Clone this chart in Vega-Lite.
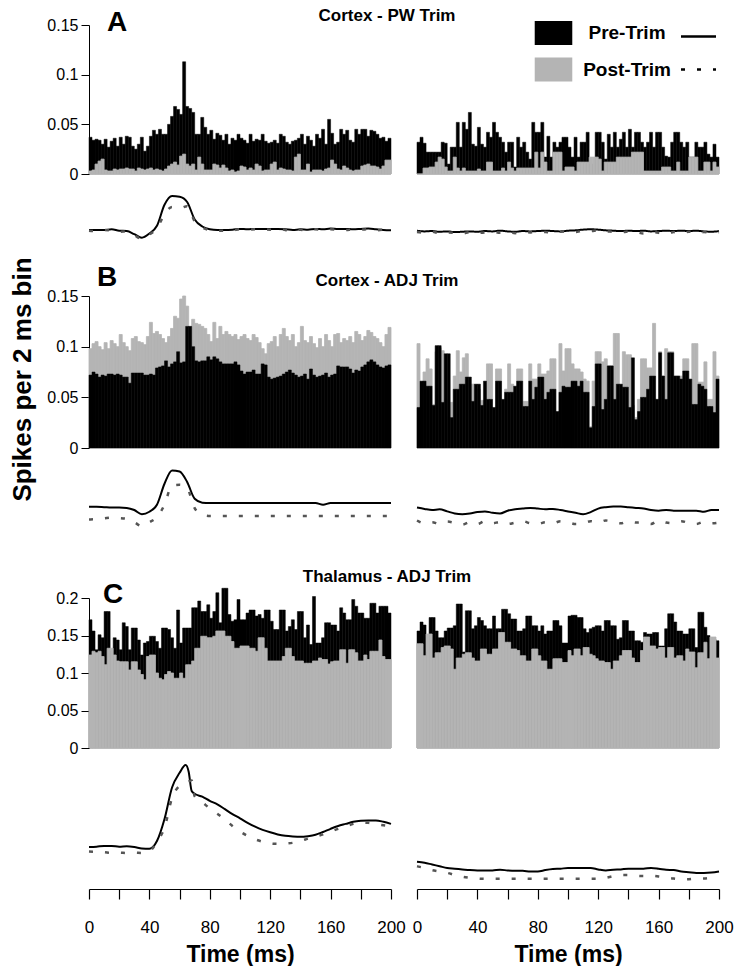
{
"$schema":"https://vega.github.io/schema/vega-lite/v6.json",
"padding":{"left":8,"top":7,"right":10,"bottom":0},
"config":{"view":{"stroke":null},"font":"Liberation Sans","axis":{"grid":false,"domainColor":"#000","tickColor":"#000","labelColor":"#000","titleColor":"#000"},"title":{"color":"#000"},"legend":{"labelColor":"#000"}},
"datasets":{
"AL":[{"t":0,"pre":0.037,"post":0.003},{"t":2,"pre":0.034,"post":0.004},{"t":4,"pre":0.035,"post":0.010},{"t":6,"pre":0.034,"post":0.013},{"t":8,"pre":0.030,"post":0.015},{"t":10,"pre":0.035,"post":0.004},{"t":12,"pre":0.027,"post":0.003},{"t":14,"pre":0.033,"post":0.003},{"t":16,"pre":0.036,"post":0.005},{"t":18,"pre":0.028,"post":0.004},
{"t":20,"pre":0.037,"post":0.005},{"t":22,"pre":0.030,"post":0.005},{"t":24,"pre":0.038,"post":0.006},{"t":26,"pre":0.037,"post":0.005},{"t":28,"pre":0.028,"post":0.005},{"t":30,"pre":0.025,"post":0.003},{"t":32,"pre":0.030,"post":0.006},{"t":34,"pre":0.037,"post":0.005},{"t":36,"pre":0.023,"post":0.004},{"t":38,"pre":0.028,"post":0.005},
{"t":40,"pre":0.038,"post":0.006},{"t":42,"pre":0.044,"post":0.004},{"t":44,"pre":0.040,"post":0.005},{"t":46,"pre":0.045,"post":0.004},{"t":48,"pre":0.040,"post":0.003},{"t":50,"pre":0.040,"post":0.005},{"t":52,"pre":0.050,"post":0.008},{"t":54,"pre":0.058,"post":0.010},{"t":56,"pre":0.068,"post":0.012},{"t":58,"pre":0.065,"post":0.009},
{"t":60,"pre":0.060,"post":0.018},{"t":62,"pre":0.113,"post":0.020},{"t":64,"pre":0.068,"post":0.010},{"t":66,"pre":0.066,"post":0.008},{"t":68,"pre":0.062,"post":0.010},{"t":70,"pre":0.040,"post":0.004},{"t":72,"pre":0.040,"post":0.017},{"t":74,"pre":0.057,"post":0.010},{"t":76,"pre":0.047,"post":0.004},{"t":78,"pre":0.040,"post":0.004},
{"t":80,"pre":0.044,"post":0.004},{"t":82,"pre":0.035,"post":0.010},{"t":84,"pre":0.041,"post":0.009},{"t":86,"pre":0.039,"post":0.006},{"t":88,"pre":0.034,"post":0.009},{"t":90,"pre":0.040,"post":0.006},{"t":92,"pre":0.030,"post":0.003},{"t":94,"pre":0.036,"post":0.004},{"t":96,"pre":0.034,"post":0.002},{"t":98,"pre":0.040,"post":0.003},
{"t":100,"pre":0.036,"post":0.008},{"t":102,"pre":0.034,"post":0.007},{"t":104,"pre":0.031,"post":0.004},{"t":106,"pre":0.040,"post":0.006},{"t":108,"pre":0.033,"post":0.004},{"t":110,"pre":0.035,"post":0.010},{"t":112,"pre":0.034,"post":0.008},{"t":114,"pre":0.040,"post":0.003},{"t":116,"pre":0.033,"post":0.004},{"t":118,"pre":0.031,"post":0.004},
{"t":120,"pre":0.032,"post":0.010},{"t":122,"pre":0.034,"post":0.012},{"t":124,"pre":0.031,"post":0.004},{"t":126,"pre":0.040,"post":0.006},{"t":128,"pre":0.038,"post":0.005},{"t":130,"pre":0.032,"post":0.004},{"t":132,"pre":0.030,"post":0.004},{"t":134,"pre":0.033,"post":0.003},{"t":136,"pre":0.034,"post":0.017},{"t":138,"pre":0.036,"post":0.020},
{"t":140,"pre":0.040,"post":0.004},{"t":142,"pre":0.030,"post":0.004},{"t":144,"pre":0.038,"post":0.010},{"t":146,"pre":0.034,"post":0.002},{"t":148,"pre":0.028,"post":0.004},{"t":150,"pre":0.040,"post":0.004},{"t":152,"pre":0.036,"post":0.004},{"t":154,"pre":0.045,"post":0.003},{"t":156,"pre":0.030,"post":0.005},{"t":158,"pre":0.055,"post":0.006},
{"t":160,"pre":0.041,"post":0.014},{"t":162,"pre":0.030,"post":0.010},{"t":164,"pre":0.032,"post":0.005},{"t":166,"pre":0.045,"post":0.004},{"t":168,"pre":0.040,"post":0.008},{"t":170,"pre":0.044,"post":0.006},{"t":172,"pre":0.034,"post":0.004},{"t":174,"pre":0.032,"post":0.003},{"t":176,"pre":0.045,"post":0.004},{"t":178,"pre":0.040,"post":0.004},
{"t":180,"pre":0.045,"post":0.008},{"t":182,"pre":0.045,"post":0.009},{"t":184,"pre":0.038,"post":0.010},{"t":186,"pre":0.044,"post":0.008},{"t":188,"pre":0.043,"post":0.008},{"t":190,"pre":0.040,"post":0.007},{"t":192,"pre":0.036,"post":0.005},{"t":194,"pre":0.037,"post":0.008},{"t":196,"pre":0.033,"post":0.014},{"t":198,"pre":0.036,"post":0.014}],
"AR":[{"t":0,"pre":0.032,"post":0.000},{"t":2,"pre":0.037,"post":0.000},{"t":4,"pre":0.031,"post":0.006},{"t":6,"pre":0.022,"post":0.006},{"t":8,"pre":0.022,"post":0.007},{"t":10,"pre":0.022,"post":0.007},{"t":12,"pre":0.022,"post":0.012},{"t":14,"pre":0.022,"post":0.017},{"t":16,"pre":0.032,"post":0.015},{"t":18,"pre":0.031,"post":0.007},
{"t":20,"pre":0.010,"post":0.003},{"t":22,"pre":0.027,"post":0.003},{"t":24,"pre":0.027,"post":0.017},{"t":26,"pre":0.052,"post":0.006},{"t":28,"pre":0.027,"post":0.003},{"t":30,"pre":0.052,"post":0.006},{"t":32,"pre":0.045,"post":0.003},{"t":34,"pre":0.062,"post":0.003},{"t":36,"pre":0.030,"post":0.003},{"t":38,"pre":0.028,"post":0.003},
{"t":40,"pre":0.047,"post":0.005},{"t":42,"pre":0.030,"post":0.003},{"t":44,"pre":0.027,"post":0.003},{"t":46,"pre":0.042,"post":0.012},{"t":48,"pre":0.037,"post":0.012},{"t":50,"pre":0.052,"post":0.003},{"t":52,"pre":0.042,"post":0.003},{"t":54,"pre":0.037,"post":0.003},{"t":56,"pre":0.032,"post":0.006},{"t":58,"pre":0.022,"post":0.003},
{"t":60,"pre":0.032,"post":0.012},{"t":62,"pre":0.032,"post":0.006},{"t":64,"pre":0.007,"post":0.003},{"t":66,"pre":0.037,"post":0.006},{"t":68,"pre":0.027,"post":0.006},{"t":70,"pre":0.032,"post":0.006},{"t":72,"pre":0.022,"post":0.006},{"t":74,"pre":0.015,"post":0.006},{"t":76,"pre":0.052,"post":0.006},{"t":78,"pre":0.042,"post":0.022},
{"t":80,"pre":0.042,"post":0.006},{"t":82,"pre":0.052,"post":0.022},{"t":84,"pre":0.017,"post":0.012},{"t":86,"pre":0.038,"post":0.003},{"t":88,"pre":0.017,"post":0.003},{"t":90,"pre":0.032,"post":0.022},{"t":92,"pre":0.027,"post":0.022},{"t":94,"pre":0.032,"post":0.022},{"t":96,"pre":0.037,"post":0.003},{"t":98,"pre":0.037,"post":0.007},
{"t":100,"pre":0.027,"post":0.007},{"t":102,"pre":0.017,"post":0.007},{"t":104,"pre":0.037,"post":0.003},{"t":106,"pre":0.017,"post":0.012},{"t":108,"pre":0.032,"post":0.012},{"t":110,"pre":0.032,"post":0.012},{"t":112,"pre":0.042,"post":0.012},{"t":114,"pre":0.010,"post":0.017},{"t":116,"pre":0.010,"post":0.017},{"t":118,"pre":0.042,"post":0.017},
{"t":120,"pre":0.042,"post":0.015},{"t":122,"pre":0.032,"post":0.003},{"t":124,"pre":0.015,"post":0.012},{"t":126,"pre":0.040,"post":0.012},{"t":128,"pre":0.027,"post":0.012},{"t":130,"pre":0.042,"post":0.012},{"t":132,"pre":0.027,"post":0.017},{"t":134,"pre":0.035,"post":0.017},{"t":136,"pre":0.042,"post":0.017},{"t":138,"pre":0.027,"post":0.017},
{"t":140,"pre":0.045,"post":0.017},{"t":142,"pre":0.027,"post":0.022},{"t":144,"pre":0.042,"post":0.022},{"t":146,"pre":0.042,"post":0.022},{"t":148,"pre":0.032,"post":0.022},{"t":150,"pre":0.027,"post":0.003},{"t":152,"pre":0.032,"post":0.003},{"t":154,"pre":0.042,"post":0.003},{"t":156,"pre":0.027,"post":0.003},{"t":158,"pre":0.042,"post":0.003},
{"t":160,"pre":0.042,"post":0.003},{"t":162,"pre":0.027,"post":0.007},{"t":164,"pre":0.018,"post":0.007},{"t":166,"pre":0.017,"post":0.007},{"t":168,"pre":0.032,"post":0.003},{"t":170,"pre":0.042,"post":0.003},{"t":172,"pre":0.042,"post":0.012},{"t":174,"pre":0.032,"post":0.003},{"t":176,"pre":0.027,"post":0.003},{"t":178,"pre":0.032,"post":0.003},
{"t":180,"pre":0.017,"post":0.017},{"t":182,"pre":0.017,"post":0.017},{"t":184,"pre":0.032,"post":0.017},{"t":186,"pre":0.027,"post":0.003},{"t":188,"pre":0.027,"post":0.003},{"t":190,"pre":0.032,"post":0.012},{"t":192,"pre":0.020,"post":0.012},{"t":194,"pre":0.017,"post":0.003},{"t":196,"pre":0.030,"post":0.012},{"t":198,"pre":0.017,"post":0.007}],
"BL":[{"t":0,"pre":0.072,"post":0.098},{"t":2,"pre":0.075,"post":0.103},{"t":4,"pre":0.073,"post":0.105},{"t":6,"pre":0.070,"post":0.100},{"t":8,"pre":0.072,"post":0.097},{"t":10,"pre":0.071,"post":0.104},{"t":12,"pre":0.073,"post":0.098},{"t":14,"pre":0.073,"post":0.106},{"t":16,"pre":0.072,"post":0.103},{"t":18,"pre":0.073,"post":0.100},
{"t":20,"pre":0.072,"post":0.112},{"t":22,"pre":0.070,"post":0.104},{"t":24,"pre":0.070,"post":0.100},{"t":26,"pre":0.064,"post":0.096},{"t":28,"pre":0.074,"post":0.108},{"t":30,"pre":0.074,"post":0.110},{"t":32,"pre":0.074,"post":0.105},{"t":34,"pre":0.074,"post":0.104},{"t":36,"pre":0.072,"post":0.102},{"t":38,"pre":0.072,"post":0.110},
{"t":40,"pre":0.073,"post":0.124},{"t":42,"pre":0.072,"post":0.113},{"t":44,"pre":0.079,"post":0.115},{"t":46,"pre":0.080,"post":0.112},{"t":48,"pre":0.081,"post":0.108},{"t":50,"pre":0.086,"post":0.104},{"t":52,"pre":0.080,"post":0.110},{"t":54,"pre":0.083,"post":0.118},{"t":56,"pre":0.085,"post":0.130},{"t":58,"pre":0.095,"post":0.128},
{"t":60,"pre":0.084,"post":0.147},{"t":62,"pre":0.085,"post":0.150},{"t":64,"pre":0.120,"post":0.140},{"t":66,"pre":0.120,"post":0.120},{"t":68,"pre":0.100,"post":0.127},{"t":70,"pre":0.086,"post":0.123},{"t":72,"pre":0.085,"post":0.122},{"t":74,"pre":0.086,"post":0.120},{"t":76,"pre":0.086,"post":0.118},{"t":78,"pre":0.090,"post":0.112},
{"t":80,"pre":0.087,"post":0.105},{"t":82,"pre":0.090,"post":0.124},{"t":84,"pre":0.088,"post":0.108},{"t":86,"pre":0.085,"post":0.120},{"t":88,"pre":0.083,"post":0.112},{"t":90,"pre":0.083,"post":0.115},{"t":92,"pre":0.083,"post":0.112},{"t":94,"pre":0.083,"post":0.110},{"t":96,"pre":0.085,"post":0.112},{"t":98,"pre":0.082,"post":0.107},
{"t":100,"pre":0.076,"post":0.110},{"t":102,"pre":0.073,"post":0.112},{"t":104,"pre":0.075,"post":0.108},{"t":106,"pre":0.075,"post":0.106},{"t":108,"pre":0.077,"post":0.112},{"t":110,"pre":0.073,"post":0.109},{"t":112,"pre":0.073,"post":0.104},{"t":114,"pre":0.083,"post":0.098},{"t":116,"pre":0.082,"post":0.093},{"t":118,"pre":0.070,"post":0.103},
{"t":120,"pre":0.068,"post":0.105},{"t":122,"pre":0.069,"post":0.110},{"t":124,"pre":0.070,"post":0.100},{"t":126,"pre":0.071,"post":0.112},{"t":128,"pre":0.073,"post":0.118},{"t":130,"pre":0.075,"post":0.110},{"t":132,"pre":0.077,"post":0.106},{"t":134,"pre":0.074,"post":0.112},{"t":136,"pre":0.072,"post":0.100},{"t":138,"pre":0.070,"post":0.104},
{"t":140,"pre":0.071,"post":0.120},{"t":142,"pre":0.073,"post":0.106},{"t":144,"pre":0.068,"post":0.104},{"t":146,"pre":0.078,"post":0.110},{"t":148,"pre":0.072,"post":0.103},{"t":150,"pre":0.070,"post":0.099},{"t":152,"pre":0.071,"post":0.108},{"t":154,"pre":0.072,"post":0.100},{"t":156,"pre":0.074,"post":0.112},{"t":158,"pre":0.070,"post":0.106},
{"t":160,"pre":0.072,"post":0.100},{"t":162,"pre":0.073,"post":0.112},{"t":164,"pre":0.081,"post":0.113},{"t":166,"pre":0.080,"post":0.104},{"t":168,"pre":0.080,"post":0.108},{"t":170,"pre":0.080,"post":0.106},{"t":172,"pre":0.078,"post":0.110},{"t":174,"pre":0.074,"post":0.104},{"t":176,"pre":0.077,"post":0.115},{"t":178,"pre":0.076,"post":0.112},
{"t":180,"pre":0.080,"post":0.106},{"t":182,"pre":0.082,"post":0.110},{"t":184,"pre":0.085,"post":0.116},{"t":186,"pre":0.087,"post":0.114},{"t":188,"pre":0.085,"post":0.110},{"t":190,"pre":0.082,"post":0.108},{"t":192,"pre":0.080,"post":0.104},{"t":194,"pre":0.079,"post":0.100},{"t":196,"pre":0.081,"post":0.112},{"t":198,"pre":0.082,"post":0.119}],
"BR":[{"t":0,"pre":0.040,"post":0.103},{"t":2,"pre":0.066,"post":0.063},{"t":4,"pre":0.066,"post":0.075},{"t":6,"pre":0.061,"post":0.088},{"t":8,"pre":0.061,"post":0.078},{"t":10,"pre":0.042,"post":0.043},{"t":12,"pre":0.101,"post":0.095},{"t":14,"pre":0.101,"post":0.099},{"t":16,"pre":0.045,"post":0.096},{"t":18,"pre":0.093,"post":0.048},
{"t":20,"pre":0.093,"post":0.031},{"t":22,"pre":0.030,"post":0.045},{"t":24,"pre":0.058,"post":0.071},{"t":26,"pre":0.058,"post":0.096},{"t":28,"pre":0.063,"post":0.075},{"t":30,"pre":0.063,"post":0.089},{"t":32,"pre":0.070,"post":0.093},{"t":34,"pre":0.070,"post":0.047},{"t":36,"pre":0.046,"post":0.063},{"t":38,"pre":0.063,"post":0.058},
{"t":40,"pre":0.063,"post":0.058},{"t":42,"pre":0.042,"post":0.047},{"t":44,"pre":0.066,"post":0.047},{"t":46,"pre":0.048,"post":0.083},{"t":48,"pre":0.048,"post":0.083},{"t":50,"pre":0.040,"post":0.031},{"t":52,"pre":0.066,"post":0.078},{"t":54,"pre":0.066,"post":0.078},{"t":56,"pre":0.048,"post":0.047},{"t":58,"pre":0.055,"post":0.058},
{"t":60,"pre":0.055,"post":0.083},{"t":62,"pre":0.055,"post":0.063},{"t":64,"pre":0.061,"post":0.055},{"t":66,"pre":0.066,"post":0.078},{"t":68,"pre":0.066,"post":0.078},{"t":70,"pre":0.041,"post":0.046},{"t":72,"pre":0.041,"post":0.046},{"t":74,"pre":0.066,"post":0.083},{"t":76,"pre":0.048,"post":0.068},{"t":78,"pre":0.060,"post":0.068},
{"t":80,"pre":0.070,"post":0.083},{"t":82,"pre":0.070,"post":0.073},{"t":84,"pre":0.048,"post":0.073},{"t":86,"pre":0.055,"post":0.076},{"t":88,"pre":0.058,"post":0.088},{"t":90,"pre":0.058,"post":0.088},{"t":92,"pre":0.036,"post":0.031},{"t":94,"pre":0.055,"post":0.103},{"t":96,"pre":0.061,"post":0.076},{"t":98,"pre":0.060,"post":0.098},
{"t":100,"pre":0.060,"post":0.098},{"t":102,"pre":0.066,"post":0.083},{"t":104,"pre":0.066,"post":0.078},{"t":106,"pre":0.061,"post":0.078},{"t":108,"pre":0.066,"post":0.075},{"t":110,"pre":0.055,"post":0.068},{"t":112,"pre":0.055,"post":0.066},{"t":114,"pre":0.020,"post":0.021},{"t":116,"pre":0.041,"post":0.066},{"t":118,"pre":0.083,"post":0.095},
{"t":120,"pre":0.083,"post":0.095},{"t":122,"pre":0.038,"post":0.085},{"t":124,"pre":0.048,"post":0.088},{"t":126,"pre":0.081,"post":0.081},{"t":128,"pre":0.081,"post":0.081},{"t":130,"pre":0.048,"post":0.113},{"t":132,"pre":0.063,"post":0.113},{"t":134,"pre":0.063,"post":0.051},{"t":136,"pre":0.060,"post":0.095},{"t":138,"pre":0.060,"post":0.092},
{"t":140,"pre":0.040,"post":0.092},{"t":142,"pre":0.089,"post":0.042},{"t":144,"pre":0.028,"post":0.030},{"t":146,"pre":0.036,"post":0.048},{"t":148,"pre":0.050,"post":0.088},{"t":150,"pre":0.050,"post":0.088},{"t":152,"pre":0.058,"post":0.079},{"t":154,"pre":0.071,"post":0.079},{"t":156,"pre":0.071,"post":0.123},{"t":158,"pre":0.048,"post":0.048},
{"t":160,"pre":0.094,"post":0.095},{"t":162,"pre":0.071,"post":0.071},{"t":164,"pre":0.048,"post":0.098},{"t":166,"pre":0.094,"post":0.095},{"t":168,"pre":0.094,"post":0.095},{"t":170,"pre":0.071,"post":0.071},{"t":172,"pre":0.071,"post":0.071},{"t":174,"pre":0.068,"post":0.071},{"t":176,"pre":0.076,"post":0.088},{"t":178,"pre":0.076,"post":0.088},
{"t":180,"pre":0.068,"post":0.043},{"t":182,"pre":0.043,"post":0.103},{"t":184,"pre":0.043,"post":0.103},{"t":186,"pre":0.063,"post":0.065},{"t":188,"pre":0.061,"post":0.065},{"t":190,"pre":0.058,"post":0.085},{"t":192,"pre":0.041,"post":0.048},{"t":194,"pre":0.041,"post":0.048},{"t":196,"pre":0.035,"post":0.095},{"t":198,"pre":0.068,"post":0.071}],
"CL":[{"t":0,"pre":0.171,"post":0.124},{"t":2,"pre":0.156,"post":0.129},{"t":4,"pre":0.131,"post":0.127},{"t":6,"pre":0.151,"post":0.129},{"t":8,"pre":0.147,"post":0.122},{"t":10,"pre":0.182,"post":0.111},{"t":12,"pre":0.182,"post":0.133},{"t":14,"pre":0.129,"post":0.133},{"t":16,"pre":0.147,"post":0.124},{"t":18,"pre":0.144,"post":0.116},
{"t":20,"pre":0.131,"post":0.115},{"t":22,"pre":0.167,"post":0.115},{"t":24,"pre":0.162,"post":0.115},{"t":26,"pre":0.131,"post":0.104},{"t":28,"pre":0.160,"post":0.115},{"t":30,"pre":0.160,"post":0.115},{"t":32,"pre":0.144,"post":0.104},{"t":34,"pre":0.124,"post":0.098},{"t":36,"pre":0.140,"post":0.091},{"t":38,"pre":0.142,"post":0.122},
{"t":40,"pre":0.149,"post":0.124},{"t":42,"pre":0.149,"post":0.124},{"t":44,"pre":0.142,"post":0.100},{"t":46,"pre":0.133,"post":0.093},{"t":48,"pre":0.160,"post":0.091},{"t":50,"pre":0.160,"post":0.098},{"t":52,"pre":0.158,"post":0.102},{"t":54,"pre":0.147,"post":0.100},{"t":56,"pre":0.133,"post":0.093},{"t":58,"pre":0.184,"post":0.093},
{"t":60,"pre":0.140,"post":0.100},{"t":62,"pre":0.160,"post":0.093},{"t":64,"pre":0.160,"post":0.111},{"t":66,"pre":0.160,"post":0.111},{"t":68,"pre":0.187,"post":0.116},{"t":70,"pre":0.187,"post":0.133},{"t":72,"pre":0.196,"post":0.133},{"t":74,"pre":0.182,"post":0.149},{"t":76,"pre":0.182,"post":0.149},{"t":78,"pre":0.191,"post":0.147},
{"t":80,"pre":0.173,"post":0.147},{"t":82,"pre":0.182,"post":0.149},{"t":84,"pre":0.207,"post":0.156},{"t":86,"pre":0.167,"post":0.156},{"t":88,"pre":0.213,"post":0.156},{"t":90,"pre":0.213,"post":0.149},{"t":92,"pre":0.178,"post":0.149},{"t":94,"pre":0.169,"post":0.142},{"t":96,"pre":0.171,"post":0.133},{"t":98,"pre":0.198,"post":0.133},
{"t":100,"pre":0.171,"post":0.136},{"t":102,"pre":0.171,"post":0.136},{"t":104,"pre":0.180,"post":0.136},{"t":106,"pre":0.184,"post":0.133},{"t":108,"pre":0.184,"post":0.133},{"t":110,"pre":0.176,"post":0.129},{"t":112,"pre":0.178,"post":0.147},{"t":114,"pre":0.173,"post":0.147},{"t":116,"pre":0.184,"post":0.133},{"t":118,"pre":0.184,"post":0.116},
{"t":120,"pre":0.169,"post":0.116},{"t":122,"pre":0.158,"post":0.116},{"t":124,"pre":0.158,"post":0.116},{"t":126,"pre":0.184,"post":0.116},{"t":128,"pre":0.184,"post":0.122},{"t":130,"pre":0.156,"post":0.133},{"t":132,"pre":0.162,"post":0.133},{"t":134,"pre":0.171,"post":0.122},{"t":136,"pre":0.158,"post":0.116},{"t":138,"pre":0.182,"post":0.116},
{"t":140,"pre":0.182,"post":0.116},{"t":142,"pre":0.147,"post":0.113},{"t":144,"pre":0.164,"post":0.113},{"t":146,"pre":0.138,"post":0.113},{"t":148,"pre":0.202,"post":0.116},{"t":150,"pre":0.140,"post":0.116},{"t":152,"pre":0.140,"post":0.120},{"t":154,"pre":0.147,"post":0.118},{"t":156,"pre":0.167,"post":0.118},{"t":158,"pre":0.167,"post":0.112},
{"t":160,"pre":0.164,"post":0.115},{"t":162,"pre":0.164,"post":0.116},{"t":164,"pre":0.156,"post":0.116},{"t":166,"pre":0.187,"post":0.131},{"t":168,"pre":0.180,"post":0.131},{"t":170,"pre":0.171,"post":0.113},{"t":172,"pre":0.171,"post":0.131},{"t":174,"pre":0.198,"post":0.131},{"t":176,"pre":0.189,"post":0.127},{"t":178,"pre":0.180,"post":0.116},
{"t":180,"pre":0.180,"post":0.116},{"t":182,"pre":0.173,"post":0.124},{"t":184,"pre":0.173,"post":0.118},{"t":186,"pre":0.193,"post":0.129},{"t":188,"pre":0.193,"post":0.129},{"t":190,"pre":0.180,"post":0.129},{"t":192,"pre":0.189,"post":0.144},{"t":194,"pre":0.189,"post":0.122},{"t":196,"pre":0.189,"post":0.118},{"t":198,"pre":0.180,"post":0.118}],
"CR":[{"t":0,"pre":0.156,"post":0.139},{"t":2,"pre":0.168,"post":0.139},{"t":4,"pre":0.164,"post":0.123},{"t":6,"pre":0.128,"post":0.152},{"t":8,"pre":0.174,"post":0.152},{"t":10,"pre":0.174,"post":0.120},{"t":12,"pre":0.156,"post":0.127},{"t":14,"pre":0.147,"post":0.127},{"t":16,"pre":0.147,"post":0.134},{"t":18,"pre":0.156,"post":0.136},
{"t":20,"pre":0.160,"post":0.136},{"t":22,"pre":0.160,"post":0.132},{"t":24,"pre":0.163,"post":0.105},{"t":26,"pre":0.192,"post":0.120},{"t":28,"pre":0.192,"post":0.120},{"t":30,"pre":0.128,"post":0.125},{"t":32,"pre":0.183,"post":0.127},{"t":34,"pre":0.183,"post":0.127},{"t":36,"pre":0.159,"post":0.120},{"t":38,"pre":0.163,"post":0.116},
{"t":40,"pre":0.174,"post":0.116},{"t":42,"pre":0.170,"post":0.132},{"t":44,"pre":0.163,"post":0.132},{"t":46,"pre":0.159,"post":0.125},{"t":48,"pre":0.159,"post":0.125},{"t":50,"pre":0.176,"post":0.132},{"t":52,"pre":0.159,"post":0.132},{"t":54,"pre":0.159,"post":0.154},{"t":56,"pre":0.185,"post":0.154},{"t":58,"pre":0.185,"post":0.141},
{"t":60,"pre":0.179,"post":0.141},{"t":62,"pre":0.172,"post":0.132},{"t":64,"pre":0.172,"post":0.132},{"t":66,"pre":0.156,"post":0.130},{"t":68,"pre":0.156,"post":0.123},{"t":70,"pre":0.159,"post":0.123},{"t":72,"pre":0.176,"post":0.116},{"t":74,"pre":0.176,"post":0.116},{"t":76,"pre":0.163,"post":0.132},{"t":78,"pre":0.163,"post":0.132},
{"t":80,"pre":0.156,"post":0.123},{"t":82,"pre":0.163,"post":0.116},{"t":84,"pre":0.152,"post":0.116},{"t":86,"pre":0.156,"post":0.105},{"t":88,"pre":0.156,"post":0.105},{"t":90,"pre":0.170,"post":0.119},{"t":92,"pre":0.170,"post":0.119},{"t":94,"pre":0.163,"post":0.119},{"t":96,"pre":0.140,"post":0.114},{"t":98,"pre":0.140,"post":0.114},
{"t":100,"pre":0.176,"post":0.130},{"t":102,"pre":0.177,"post":0.123},{"t":104,"pre":0.177,"post":0.132},{"t":106,"pre":0.174,"post":0.132},{"t":108,"pre":0.174,"post":0.123},{"t":110,"pre":0.159,"post":0.134},{"t":112,"pre":0.154,"post":0.134},{"t":114,"pre":0.159,"post":0.125},{"t":116,"pre":0.161,"post":0.123},{"t":118,"pre":0.163,"post":0.119},
{"t":120,"pre":0.163,"post":0.116},{"t":122,"pre":0.156,"post":0.116},{"t":124,"pre":0.170,"post":0.114},{"t":126,"pre":0.170,"post":0.114},{"t":128,"pre":0.163,"post":0.105},{"t":130,"pre":0.163,"post":0.116},{"t":132,"pre":0.145,"post":0.116},{"t":134,"pre":0.147,"post":0.123},{"t":136,"pre":0.170,"post":0.130},{"t":138,"pre":0.170,"post":0.130},
{"t":140,"pre":0.156,"post":0.130},{"t":142,"pre":0.156,"post":0.120},{"t":144,"pre":0.143,"post":0.114},{"t":146,"pre":0.143,"post":0.114},{"t":148,"pre":0.141,"post":0.130},{"t":150,"pre":0.154,"post":0.148},{"t":152,"pre":0.152,"post":0.148},{"t":154,"pre":0.152,"post":0.136},{"t":156,"pre":0.154,"post":0.136},{"t":158,"pre":0.154,"post":0.132},
{"t":160,"pre":0.136,"post":0.134},{"t":162,"pre":0.136,"post":0.134},{"t":164,"pre":0.159,"post":0.120},{"t":166,"pre":0.179,"post":0.134},{"t":168,"pre":0.179,"post":0.134},{"t":170,"pre":0.168,"post":0.120},{"t":172,"pre":0.156,"post":0.123},{"t":174,"pre":0.156,"post":0.123},{"t":176,"pre":0.152,"post":0.116},{"t":178,"pre":0.152,"post":0.132},
{"t":180,"pre":0.159,"post":0.128},{"t":182,"pre":0.159,"post":0.128},{"t":184,"pre":0.134,"post":0.107},{"t":186,"pre":0.181,"post":0.127},{"t":188,"pre":0.181,"post":0.127},{"t":190,"pre":0.161,"post":0.141},{"t":192,"pre":0.150,"post":0.119},{"t":194,"pre":0.136,"post":0.148},{"t":196,"pre":0.145,"post":0.148},{"t":198,"pre":0.143,"post":0.120}],
"LAL":[{"t":0,"pre":0,"post":-0.02},{"t":5,"pre":0,"post":-0.03},{"t":10,"pre":0,"post":0},{"t":15,"pre":0.02,"post":-0.02},{"t":20,"pre":-0.02,"post":-0.05},{"t":25,"pre":-0.03,"post":-0.04},{"t":30,"pre":-0.12,"post":-0.15},{"t":35,"pre":-0.22,"post":-0.25},{"t":40,"pre":-0.1,"post":-0.13},{"t":45,"pre":0.12,"post":0.05},{"t":50,"pre":0.72,"post":0.45},{"t":55,"pre":0.97,"post":0.66},{"t":60,"pre":0.95,"post":0.62},{"t":65,"pre":0.8,"post":0.68},{"t":70,"pre":0.3,"post":0.25},{"t":75,"pre":0.1,"post":0.07},{"t":80,"pre":0.02,"post":0},{"t":85,"pre":0,"post":-0.02},{"t":90,"pre":0,"post":-0.02},{"t":95,"pre":0.01,"post":-0.01},{"t":100,"pre":0.03,"post":0.02},{"t":105,"pre":0.02,"post":0.01},{"t":110,"pre":0.03,"post":0.02},{"t":115,"pre":0.03,"post":0.02},{"t":120,"pre":0.03,"post":0.01},{"t":125,"pre":0.03,"post":0.03},{"t":130,"pre":0.02,"post":0},{"t":135,"pre":0,"post":-0.04},{"t":140,"pre":0.02,"post":0.01},{"t":145,"pre":0.01,"post":-0.03},{"t":150,"pre":0.03,"post":0.02},{"t":155,"pre":0.02,"post":0},{"t":160,"pre":0.04,"post":0.02},{"t":165,"pre":0.03,"post":0.01},{"t":170,"pre":0.03,"post":0},{"t":175,"pre":0.02,"post":0.02},{"t":180,"pre":0.03,"post":0.01},{"t":185,"pre":0.04,"post":0.02},{"t":190,"pre":0.02,"post":-0.01},{"t":195,"pre":0,"post":0.01},{"t":200,"pre":-0.01,"post":-0.02}],
"LAR":[{"t":0,"pre":-0.02,"post":-0.06},{"t":5,"pre":-0.04,"post":-0.08},{"t":10,"pre":-0.03,"post":-0.05},{"t":15,"pre":-0.05,"post":-0.09},{"t":20,"pre":-0.04,"post":-0.07},{"t":25,"pre":-0.06,"post":-0.08},{"t":30,"pre":-0.05,"post":-0.1},{"t":35,"pre":-0.04,"post":-0.06},{"t":40,"pre":-0.05,"post":-0.08},{"t":45,"pre":-0.03,"post":-0.07},{"t":50,"pre":-0.04,"post":-0.05},{"t":55,"pre":-0.02,"post":-0.08},{"t":60,"pre":-0.04,"post":-0.06},{"t":65,"pre":-0.05,"post":-0.09},{"t":70,"pre":-0.03,"post":-0.05},{"t":75,"pre":-0.04,"post":-0.07},{"t":80,"pre":-0.03,"post":-0.05},{"t":85,"pre":-0.02,"post":-0.06},{"t":90,"pre":-0.03,"post":-0.08},{"t":95,"pre":-0.04,"post":-0.05},{"t":100,"pre":-0.02,"post":-0.04},{"t":105,"pre":-0.01,"post":-0.06},{"t":110,"pre":0.01,"post":-0.02},{"t":115,"pre":0.02,"post":-0.03},{"t":120,"pre":0.01,"post":-0.01},{"t":125,"pre":-0.01,"post":-0.04},{"t":130,"pre":-0.02,"post":-0.05},{"t":135,"pre":-0.03,"post":-0.07},{"t":140,"pre":-0.02,"post":-0.04},{"t":145,"pre":-0.03,"post":-0.06},{"t":150,"pre":-0.02,"post":-0.1},{"t":155,"pre":-0.04,"post":-0.06},{"t":160,"pre":-0.03,"post":-0.08},{"t":165,"pre":-0.02,"post":-0.12},{"t":170,"pre":-0.03,"post":-0.06},{"t":175,"pre":-0.02,"post":-0.1},{"t":180,"pre":-0.03,"post":-0.05},{"t":185,"pre":-0.02,"post":-0.07},{"t":190,"pre":-0.04,"post":-0.06},{"t":195,"pre":-0.05,"post":-0.08},{"t":200,"pre":-0.03,"post":-0.06}],
"LBL":[{"t":0,"pre":-0.11,"post":-0.47},{"t":5,"pre":-0.11,"post":-0.46},{"t":10,"pre":-0.12,"post":-0.44},{"t":15,"pre":-0.13,"post":-0.42},{"t":20,"pre":-0.13,"post":-0.43},{"t":25,"pre":-0.14,"post":-0.45},{"t":30,"pre":-0.2,"post":-0.55},{"t":35,"pre":-0.32,"post":-0.66},{"t":40,"pre":-0.25,"post":-0.55},{"t":45,"pre":-0.05,"post":-0.4},{"t":50,"pre":0.55,"post":-0.05},{"t":55,"pre":0.93,"post":0.5},{"t":60,"pre":0.9,"post":0.52},{"t":65,"pre":0.6,"post":0.42},{"t":70,"pre":0.12,"post":-0.15},{"t":75,"pre":0.01,"post":-0.33},{"t":80,"pre":0,"post":-0.37},{"t":85,"pre":0,"post":-0.37},{"t":90,"pre":0,"post":-0.37},{"t":95,"pre":0,"post":-0.37},{"t":100,"pre":0,"post":-0.37},{"t":105,"pre":0,"post":-0.37},{"t":110,"pre":0,"post":-0.37},{"t":115,"pre":0,"post":-0.37},{"t":120,"pre":0,"post":-0.37},{"t":125,"pre":0,"post":-0.37},{"t":130,"pre":0,"post":-0.37},{"t":135,"pre":0,"post":-0.37},{"t":140,"pre":0,"post":-0.37},{"t":145,"pre":0,"post":-0.37},{"t":150,"pre":0,"post":-0.37},{"t":155,"pre":-0.05,"post":-0.37},{"t":160,"pre":0,"post":-0.37},{"t":165,"pre":0,"post":-0.37},{"t":170,"pre":0,"post":-0.37},{"t":175,"pre":0,"post":-0.37},{"t":180,"pre":0,"post":-0.37},{"t":185,"pre":0,"post":-0.37},{"t":190,"pre":0,"post":-0.37},{"t":195,"pre":0,"post":-0.37},{"t":200,"pre":0,"post":-0.37}],
"LBR":[{"t":0,"pre":-0.13,"post":-0.5},{"t":5,"pre":-0.17,"post":-0.58},{"t":10,"pre":-0.2,"post":-0.55},{"t":15,"pre":-0.18,"post":-0.6},{"t":20,"pre":-0.24,"post":-0.53},{"t":25,"pre":-0.3,"post":-0.57},{"t":30,"pre":-0.32,"post":-0.62},{"t":35,"pre":-0.3,"post":-0.55},{"t":40,"pre":-0.26,"post":-0.6},{"t":45,"pre":-0.24,"post":-0.52},{"t":50,"pre":-0.28,"post":-0.58},{"t":55,"pre":-0.3,"post":-0.54},{"t":60,"pre":-0.22,"post":-0.6},{"t":65,"pre":-0.18,"post":-0.56},{"t":70,"pre":-0.16,"post":-0.52},{"t":75,"pre":-0.14,"post":-0.58},{"t":80,"pre":-0.16,"post":-0.6},{"t":85,"pre":-0.18,"post":-0.55},{"t":90,"pre":-0.17,"post":-0.58},{"t":95,"pre":-0.2,"post":-0.52},{"t":100,"pre":-0.24,"post":-0.55},{"t":105,"pre":-0.28,"post":-0.6},{"t":110,"pre":-0.32,"post":-0.58},{"t":115,"pre":-0.26,"post":-0.52},{"t":120,"pre":-0.16,"post":-0.56},{"t":125,"pre":-0.12,"post":-0.5},{"t":130,"pre":-0.1,"post":-0.54},{"t":135,"pre":-0.1,"post":-0.58},{"t":140,"pre":-0.12,"post":-0.52},{"t":145,"pre":-0.14,"post":-0.56},{"t":150,"pre":-0.16,"post":-0.55},{"t":155,"pre":-0.2,"post":-0.6},{"t":160,"pre":-0.22,"post":-0.5},{"t":165,"pre":-0.2,"post":-0.56},{"t":170,"pre":-0.22,"post":-0.58},{"t":175,"pre":-0.22,"post":-0.52},{"t":180,"pre":-0.22,"post":-0.57},{"t":185,"pre":-0.22,"post":-0.6},{"t":190,"pre":-0.25,"post":-0.54},{"t":195,"pre":-0.2,"post":-0.58},{"t":200,"pre":-0.2,"post":-0.56}],
"LCL":[{"t":0,"pre":0,"post":-0.13},{"t":5,"pre":0.01,"post":-0.14},{"t":10,"pre":0.03,"post":-0.15},{"t":15,"pre":0.03,"post":-0.17},{"t":20,"pre":0.01,"post":-0.16},{"t":25,"pre":0.02,"post":-0.17},{"t":30,"pre":0,"post":-0.16},{"t":35,"pre":-0.04,"post":-0.17},{"t":40,"pre":-0.05,"post":-0.12},{"t":45,"pre":0.17,"post":0.15},{"t":50,"pre":0.8,"post":0.55},{"t":55,"pre":1.7,"post":1.4},{"t":60,"pre":2.12,"post":1.75},{"t":64,"pre":2.34,"post":1.83},{"t":66,"pre":2.15,"post":1.87},{"t":68,"pre":1.6,"post":1.9},{"t":70,"pre":1.52,"post":1.45},{"t":75,"pre":1.44,"post":1.28},{"t":80,"pre":1.32,"post":1.1},{"t":85,"pre":1.22,"post":0.95},{"t":90,"pre":1.08,"post":0.79},{"t":95,"pre":0.94,"post":0.6},{"t":100,"pre":0.82,"post":0.44},{"t":105,"pre":0.69,"post":0.32},{"t":110,"pre":0.58,"post":0.22},{"t":115,"pre":0.49,"post":0.15},{"t":120,"pre":0.42,"post":0.1},{"t":125,"pre":0.36,"post":0.09},{"t":130,"pre":0.32,"post":0.1},{"t":135,"pre":0.3,"post":0.12},{"t":140,"pre":0.29,"post":0.17},{"t":145,"pre":0.31,"post":0.24},{"t":150,"pre":0.35,"post":0.3},{"t":155,"pre":0.43,"post":0.36},{"t":160,"pre":0.52,"post":0.44},{"t":165,"pre":0.6,"post":0.52},{"t":170,"pre":0.66,"post":0.59},{"t":175,"pre":0.72,"post":0.66},{"t":180,"pre":0.75,"post":0.7},{"t":185,"pre":0.76,"post":0.69},{"t":190,"pre":0.76,"post":0.65},{"t":195,"pre":0.72,"post":0.62},{"t":200,"pre":0.66,"post":0.6}],
"LCR":[{"t":0,"pre":-0.42,"post":-0.55},{"t":5,"pre":-0.45,"post":-0.6},{"t":10,"pre":-0.5,"post":-0.66},{"t":15,"pre":-0.55,"post":-0.7},{"t":20,"pre":-0.6,"post":-0.74},{"t":25,"pre":-0.62,"post":-0.8},{"t":30,"pre":-0.64,"post":-0.85},{"t":35,"pre":-0.66,"post":-0.88},{"t":40,"pre":-0.67,"post":-0.9},{"t":45,"pre":-0.67,"post":-0.91},{"t":50,"pre":-0.67,"post":-0.91},{"t":55,"pre":-0.65,"post":-0.91},{"t":60,"pre":-0.67,"post":-0.91},{"t":65,"pre":-0.68,"post":-0.91},{"t":70,"pre":-0.68,"post":-0.91},{"t":75,"pre":-0.7,"post":-0.91},{"t":80,"pre":-0.7,"post":-0.91},{"t":85,"pre":-0.66,"post":-0.91},{"t":90,"pre":-0.63,"post":-0.91},{"t":95,"pre":-0.62,"post":-0.91},{"t":100,"pre":-0.6,"post":-0.91},{"t":105,"pre":-0.6,"post":-0.91},{"t":110,"pre":-0.6,"post":-0.91},{"t":115,"pre":-0.6,"post":-0.91},{"t":120,"pre":-0.64,"post":-0.91},{"t":125,"pre":-0.67,"post":-0.88},{"t":130,"pre":-0.65,"post":-0.83},{"t":135,"pre":-0.64,"post":-0.8},{"t":140,"pre":-0.62,"post":-0.8},{"t":145,"pre":-0.62,"post":-0.82},{"t":150,"pre":-0.62,"post":-0.83},{"t":155,"pre":-0.6,"post":-0.82},{"t":160,"pre":-0.62,"post":-0.84},{"t":165,"pre":-0.65,"post":-0.87},{"t":170,"pre":-0.66,"post":-0.9},{"t":175,"pre":-0.7,"post":-0.92},{"t":180,"pre":-0.72,"post":-0.92},{"t":185,"pre":-0.74,"post":-0.9},{"t":190,"pre":-0.74,"post":-0.9},{"t":195,"pre":-0.73,"post":-0.88},{"t":200,"pre":-0.7,"post":-0.88}]
},
"columns":2,
"spacing":{"row":0,"column":26},
"bounds":"flush",
"resolve":{"scale":{"fill":"independent","strokeDash":"independent"},"legend":{"fill":"independent","strokeDash":"independent"}},
"concat":[
  {"width":302,"height":149,"data":{"name":"AL"},
   "title":{"text":"A","anchor":"start","frame":"group","fontSize":28,"fontWeight":"bold","dx":18,"dy":20,"offset":0},
   "layer":[
    {"mark":{"type":"bar","stroke":"#000","strokeWidth":0.5},
     "encoding":{"x":{"field":"t","type":"ordinal","scale":{"paddingInner":0,"paddingOuter":0},"axis":null},
      "y":{"field":"pre","type":"quantitative","scale":{"domain":[0,0.15],"nice":false},"axis":{"values":[0,0.05,0.1,0.15],"format":".2~f","title":null,"tickSize":8,"labelFontSize":16,"labelPadding":3}},
      "fill":{"datum":"Pre-Trim","scale":{"domain":["Pre-Trim","Post-Trim"],"range":["#000000","#b4b4b4"]},"legend":null}}},
    {"mark":{"type":"bar","stroke":"#b4b4b4","strokeWidth":0.8},
     "encoding":{"x":{"field":"t","type":"ordinal","scale":{"paddingInner":0,"paddingOuter":0},"axis":null},
      "y":{"field":"post","type":"quantitative","scale":{"domain":[0,0.15],"nice":false},"axis":{"values":[0,0.05,0.1,0.15],"format":".2~f","title":null,"tickSize":8,"labelFontSize":16,"labelPadding":3}},
      "fill":{"datum":"Post-Trim","scale":{"domain":["Pre-Trim","Post-Trim"],"range":["#000000","#b4b4b4"]},"legend":null}}}
   ]},
  {"width":302,"height":149,"data":{"name":"AR"},
   "title":{"text":"Cortex - PW Trim","anchor":"middle","frame":"group","fontSize":17,"fontWeight":"bold","dx":-181,"dy":8,"offset":4},
   "layer":[
    {"mark":{"type":"bar","stroke":"#000","strokeWidth":0.5},
     "encoding":{"x":{"field":"t","type":"ordinal","scale":{"paddingInner":0,"paddingOuter":0},"axis":null},
      "y":{"field":"pre","type":"quantitative","scale":{"domain":[0,0.15],"nice":false},"axis":null},
      "fill":{"datum":"Pre-Trim","scale":{"domain":["Pre-Trim","Post-Trim"],"range":["#000000","#b4b4b4"]},
        "legend":{"orient":"none","legendX":124.5,"legendY":-4,"title":null,"symbolType":"M-1.565,-1H1.565V1H-1.565Z","symbolSize":576,"symbolStrokeWidth":0,"labelFontSize":19,"labelFontWeight":"bold","labelAlign":"center","labelOffset":61.5,"rowPadding":12.5,"padding":0}}}},
    {"mark":{"type":"bar","stroke":"#b4b4b4","strokeWidth":0.8},
     "encoding":{"x":{"field":"t","type":"ordinal","scale":{"paddingInner":0,"paddingOuter":0},"axis":null},
      "y":{"field":"post","type":"quantitative","scale":{"domain":[0,0.15],"nice":false},"axis":null},
      "fill":{"datum":"Post-Trim","scale":{"domain":["Pre-Trim","Post-Trim"],"range":["#000000","#b4b4b4"]},
        "legend":{"orient":"none","legendX":124.5,"legendY":-4,"title":null,"symbolType":"M-1.565,-1H1.565V1H-1.565Z","symbolSize":576,"symbolStrokeWidth":0,"labelFontSize":19,"labelFontWeight":"bold","labelAlign":"center","labelOffset":61.5,"rowPadding":12.5,"padding":0}}}}
   ]},
  {"width":302,"height":122,"data":{"name":"LAL"},
   "layer":[
    {"mark":{"type":"line","color":"#000","strokeWidth":2,"interpolate":"monotone"},
     "encoding":{"x":{"field":"t","type":"quantitative","scale":{"domain":[0,200],"nice":false},"axis":null},
      "y":{"field":"pre","type":"quantitative","scale":{"domain":[-1.886,1.6],"nice":false,"zero":false},"axis":null}}},
    {"mark":{"type":"line","color":"#555","strokeWidth":2.5,"strokeDash":[4,12],"interpolate":"monotone"},
     "encoding":{"x":{"field":"t","type":"quantitative","scale":{"domain":[0,200],"nice":false},"axis":null},
      "y":{"field":"post","type":"quantitative","scale":{"domain":[-1.886,1.6],"nice":false,"zero":false},"axis":null}}}
   ]},
  {"width":302,"height":122,"data":{"name":"LAR"},
   "layer":[
    {"mark":{"type":"line","color":"#000","strokeWidth":2,"interpolate":"monotone"},
     "encoding":{"x":{"field":"t","type":"quantitative","scale":{"domain":[0,200],"nice":false},"axis":null},
      "y":{"field":"pre","type":"quantitative","scale":{"domain":[-1.886,1.6],"nice":false,"zero":false},"axis":null},
      "strokeDash":{"datum":"Pre-Trim","scale":{"domain":["Pre-Trim","Post-Trim"],"range":[[1,0],[4,12]]},
        "legend":{"orient":"none","legendX":262.5,"legendY":-156.5,"title":null,"symbolType":"stroke","symbolSize":1225,"symbolStrokeWidth":2.5,"symbolStrokeColor":"#000","labelExpr":"''","labelFontSize":1,"rowPadding":9,"padding":0}}}},
    {"mark":{"type":"line","color":"#555","strokeWidth":2.5,"interpolate":"monotone"},
     "encoding":{"x":{"field":"t","type":"quantitative","scale":{"domain":[0,200],"nice":false},"axis":null},
      "y":{"field":"post","type":"quantitative","scale":{"domain":[-1.886,1.6],"nice":false,"zero":false},"axis":null},
      "strokeDash":{"datum":"Post-Trim","scale":{"domain":["Pre-Trim","Post-Trim"],"range":[[1,0],[4,12]]},
        "legend":{"orient":"none","legendX":262.5,"legendY":-156.5,"title":null,"symbolType":"stroke","symbolSize":1225,"symbolStrokeWidth":2.5,"symbolStrokeColor":"#000","labelExpr":"''","labelFontSize":1,"rowPadding":9,"padding":0}}}}
   ]},
  {"width":302,"height":152,"data":{"name":"BL"},
   "title":{"text":"B","anchor":"start","frame":"group","fontSize":28,"fontWeight":"bold","dx":8,"dy":35,"offset":0},
   "layer":[
    {"mark":{"type":"bar","stroke":"#b4b4b4","strokeWidth":0.8},
     "encoding":{"x":{"field":"t","type":"ordinal","scale":{"paddingInner":0,"paddingOuter":0},"axis":null},
      "y":{"field":"post","type":"quantitative","scale":{"domain":[0,0.15],"nice":false},"axis":{"values":[0,0.05,0.1,0.15],"format":".2~f","title":"Spikes per 2 ms bin","titleFontSize":26,"titleFontWeight":"bold","titleAngle":-90,"titleX":-59,"titleY":83,"titleAlign":"center","titleBaseline":"alphabetic","tickSize":8,"labelFontSize":16,"labelPadding":3}},
      "fill":{"datum":"Post-Trim","scale":{"domain":["Pre-Trim","Post-Trim"],"range":["#000000","#b4b4b4"]},"legend":null}}},
    {"mark":{"type":"bar","stroke":"#000","strokeWidth":0.5},
     "encoding":{"x":{"field":"t","type":"ordinal","scale":{"paddingInner":0,"paddingOuter":0},"axis":null},
      "y":{"field":"pre","type":"quantitative","scale":{"domain":[0,0.15],"nice":false},"axis":{"values":[0,0.05,0.1,0.15],"format":".2~f","title":"Spikes per 2 ms bin","titleFontSize":26,"titleFontWeight":"bold","titleAngle":-90,"titleX":-59,"titleY":83,"titleAlign":"center","titleBaseline":"alphabetic","tickSize":8,"labelFontSize":16,"labelPadding":3}},
      "fill":{"datum":"Pre-Trim","scale":{"domain":["Pre-Trim","Post-Trim"],"range":["#000000","#b4b4b4"]},"legend":null}}}
   ]},
  {"width":302,"height":152,"data":{"name":"BR"},
   "title":{"text":"Cortex - ADJ Trim","anchor":"middle","frame":"group","fontSize":17,"fontWeight":"bold","dx":-181,"dy":-2,"offset":4},
   "layer":[
    {"mark":{"type":"bar","stroke":"#b4b4b4","strokeWidth":0.8},
     "encoding":{"x":{"field":"t","type":"ordinal","scale":{"paddingInner":0,"paddingOuter":0},"axis":null},
      "y":{"field":"post","type":"quantitative","scale":{"domain":[0,0.15],"nice":false},"axis":null},
      "fill":{"datum":"Post-Trim","scale":{"domain":["Pre-Trim","Post-Trim"],"range":["#000000","#b4b4b4"]},"legend":null}}},
    {"mark":{"type":"bar","stroke":"#000","strokeWidth":0.5},
     "encoding":{"x":{"field":"t","type":"ordinal","scale":{"paddingInner":0,"paddingOuter":0},"axis":null},
      "y":{"field":"pre","type":"quantitative","scale":{"domain":[0,0.15],"nice":false},"axis":null},
      "fill":{"datum":"Pre-Trim","scale":{"domain":["Pre-Trim","Post-Trim"],"range":["#000000","#b4b4b4"]},"legend":null}}}
   ]},
  {"width":302,"height":150,"data":{"name":"LBL"},
   "layer":[
    {"mark":{"type":"line","color":"#000","strokeWidth":2,"interpolate":"monotone"},
     "encoding":{"x":{"field":"t","type":"quantitative","scale":{"domain":[0,200],"nice":false},"axis":null},
      "y":{"field":"pre","type":"quantitative","scale":{"domain":[-2.714,1.571],"nice":false,"zero":false},"axis":null}}},
    {"mark":{"type":"line","color":"#555","strokeWidth":2.5,"strokeDash":[4,12],"interpolate":"monotone"},
     "encoding":{"x":{"field":"t","type":"quantitative","scale":{"domain":[0,200],"nice":false},"axis":null},
      "y":{"field":"post","type":"quantitative","scale":{"domain":[-2.714,1.571],"nice":false,"zero":false},"axis":null}}}
   ]},
  {"width":302,"height":150,"data":{"name":"LBR"},
   "layer":[
    {"mark":{"type":"line","color":"#000","strokeWidth":2,"interpolate":"monotone"},
     "encoding":{"x":{"field":"t","type":"quantitative","scale":{"domain":[0,200],"nice":false},"axis":null},
      "y":{"field":"pre","type":"quantitative","scale":{"domain":[-2.714,1.571],"nice":false,"zero":false},"axis":null}}},
    {"mark":{"type":"line","color":"#555","strokeWidth":2.5,"strokeDash":[4,12],"interpolate":"monotone"},
     "encoding":{"x":{"field":"t","type":"quantitative","scale":{"domain":[0,200],"nice":false},"axis":null},
      "y":{"field":"post","type":"quantitative","scale":{"domain":[-2.714,1.571],"nice":false,"zero":false},"axis":null}}}
   ]},
  {"width":302,"height":150,"data":{"name":"CL"},
   "title":{"text":"C","anchor":"start","frame":"group","fontSize":28,"fontWeight":"bold","dx":14,"dy":21,"offset":0},
   "layer":[
    {"mark":{"type":"bar","stroke":"#000","strokeWidth":0.5},
     "encoding":{"x":{"field":"t","type":"ordinal","scale":{"paddingInner":0,"paddingOuter":0},"axis":null},
      "y":{"field":"pre","type":"quantitative","scale":{"domain":[0,0.2],"nice":false},"axis":{"values":[0,0.05,0.1,0.15,0.2],"format":".2~f","title":null,"tickSize":8,"labelFontSize":16,"labelPadding":3}},
      "fill":{"datum":"Pre-Trim","scale":{"domain":["Pre-Trim","Post-Trim"],"range":["#000000","#b4b4b4"]},"legend":null}}},
    {"mark":{"type":"bar","stroke":"#b4b4b4","strokeWidth":0.8},
     "encoding":{"x":{"field":"t","type":"ordinal","scale":{"paddingInner":0,"paddingOuter":0},"axis":null},
      "y":{"field":"post","type":"quantitative","scale":{"domain":[0,0.2],"nice":false},"axis":{"values":[0,0.05,0.1,0.15,0.2],"format":".2~f","title":null,"tickSize":8,"labelFontSize":16,"labelPadding":3}},
      "fill":{"datum":"Post-Trim","scale":{"domain":["Pre-Trim","Post-Trim"],"range":["#000000","#b4b4b4"]},"legend":null}}}
   ]},
  {"width":302,"height":150,"data":{"name":"CR"},
   "title":{"text":"Thalamus - ADJ Trim","anchor":"middle","frame":"group","fontSize":17,"fontWeight":"bold","dx":-181,"dy":-8,"offset":4},
   "layer":[
    {"mark":{"type":"bar","stroke":"#000","strokeWidth":0.5},
     "encoding":{"x":{"field":"t","type":"ordinal","scale":{"paddingInner":0,"paddingOuter":0},"axis":null},
      "y":{"field":"pre","type":"quantitative","scale":{"domain":[0,0.2],"nice":false},"axis":null},
      "fill":{"datum":"Pre-Trim","scale":{"domain":["Pre-Trim","Post-Trim"],"range":["#000000","#b4b4b4"]},"legend":null}}},
    {"mark":{"type":"bar","stroke":"#b4b4b4","strokeWidth":0.8},
     "encoding":{"x":{"field":"t","type":"ordinal","scale":{"paddingInner":0,"paddingOuter":0},"axis":null},
      "y":{"field":"post","type":"quantitative","scale":{"domain":[0,0.2],"nice":false},"axis":null},
      "fill":{"datum":"Post-Trim","scale":{"domain":["Pre-Trim","Post-Trim"],"range":["#000000","#b4b4b4"]},"legend":null}}}
   ]},
  {"width":302,"height":141,"data":{"name":"LCL"},
   "layer":[
    {"mark":{"type":"line","color":"#000","strokeWidth":2,"interpolate":"monotone"},
     "encoding":{"x":{"field":"t","type":"quantitative","scale":{"domain":[0,200],"nice":false},"axis":{"values":[0,20,40,60,80,100,120,140,160,180,200],"labelExpr":"datum.value % 40 === 0 ? datum.label : ''","tickSize":10,"labelFontSize":17,"labelPadding":20,"labelFlush":false,"title":"Time (ms)","titleFontSize":23,"titleFontWeight":"bold","titlePadding":8,"domainWidth":1.2,"tickWidth":1.2}},
      "y":{"field":"pre","type":"quantitative","scale":{"domain":[-1.2,2.829],"nice":false,"zero":false},"axis":null}}},
    {"mark":{"type":"line","color":"#555","strokeWidth":2.5,"strokeDash":[4,12],"interpolate":"monotone"},
     "encoding":{"x":{"field":"t","type":"quantitative","scale":{"domain":[0,200],"nice":false},"axis":{"values":[0,20,40,60,80,100,120,140,160,180,200],"labelExpr":"datum.value % 40 === 0 ? datum.label : ''","tickSize":10,"labelFontSize":17,"labelPadding":20,"labelFlush":false,"title":"Time (ms)","titleFontSize":23,"titleFontWeight":"bold","titlePadding":8,"domainWidth":1.2,"tickWidth":1.2}},
      "y":{"field":"post","type":"quantitative","scale":{"domain":[-1.2,2.829],"nice":false,"zero":false},"axis":null}}}
   ]},
  {"width":302,"height":141,"data":{"name":"LCR"},
   "layer":[
    {"mark":{"type":"line","color":"#000","strokeWidth":2,"interpolate":"monotone"},
     "encoding":{"x":{"field":"t","type":"quantitative","scale":{"domain":[0,200],"nice":false},"axis":{"values":[0,20,40,60,80,100,120,140,160,180,200],"labelExpr":"datum.value % 40 === 0 ? datum.label : ''","tickSize":10,"labelFontSize":17,"labelPadding":20,"labelFlush":false,"title":"Time (ms)","titleFontSize":23,"titleFontWeight":"bold","titlePadding":8,"domainWidth":1.2,"tickWidth":1.2}},
      "y":{"field":"pre","type":"quantitative","scale":{"domain":[-1.2,2.829],"nice":false,"zero":false},"axis":null}}},
    {"mark":{"type":"line","color":"#555","strokeWidth":2.5,"strokeDash":[4,12],"interpolate":"monotone"},
     "encoding":{"x":{"field":"t","type":"quantitative","scale":{"domain":[0,200],"nice":false},"axis":{"values":[0,20,40,60,80,100,120,140,160,180,200],"labelExpr":"datum.value % 40 === 0 ? datum.label : ''","tickSize":10,"labelFontSize":17,"labelPadding":20,"labelFlush":false,"title":"Time (ms)","titleFontSize":23,"titleFontWeight":"bold","titlePadding":8,"domainWidth":1.2,"tickWidth":1.2}},
      "y":{"field":"post","type":"quantitative","scale":{"domain":[-1.2,2.829],"nice":false,"zero":false},"axis":null}}}
   ]}
]
}
